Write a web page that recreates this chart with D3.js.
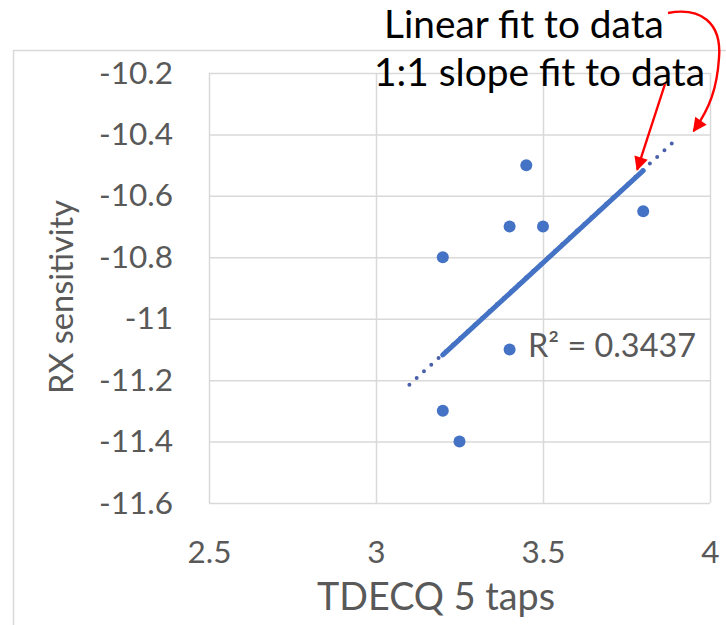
<!DOCTYPE html>
<html>
<head>
<meta charset="utf-8">
<script src="https://cdn.jsdelivr.net/npm/d3@7"></script>
<style>
  html, body { margin: 0; padding: 0; background: #ffffff; }
  svg { display: block; }
</style>
</head>
<body>
<svg id="chart" width="726" height="625"></svg>
<script>
// ---------------- data ----------------
const tdecqValues = [3.45, 3.8, 3.4, 3.5, 3.2, 3.4, 3.2, 3.25];
const rxSensitivity = [-10.5, -10.65, -10.7, -10.7, -10.8, -11.1, -11.3, -11.4];

const xTicks = [2.5, 3, 3.5, 4];
const xTickLabels = ["2.5", "3", "3.5", "4"];
const yTicks = [-10.2, -10.4, -10.6, -10.8, -11, -11.2, -11.4, -11.6];
const yTickLabels = ["-10.2", "-10.4", "-10.6", "-10.8", "-11", "-11.2", "-11.4", "-11.6"];

// linear trendline (dotted, forecast 0.1 both ways) and 1:1 slope fit (solid)
const linearFitSlope = 1.0;
const linearFitIntercept = -14.315;
const linearFitRange = [3.1, 3.9];
const oneToOneSlope = 1.0;
const oneToOneIntercept = -14.318;
const oneToOneRange = [3.2, 3.8];
const rSquaredLabel = "R² = 0.3437";

const xTitle = "TDECQ 5 taps";
const yTitle = "RX sensitivity";
const noteLinear = "Linear fit to data";
const noteOneToOne = "1:1 slope fit to data";

// ---------------- layout ----------------
const svg = d3.select("#chart");
const plot = { left: 209, right: 710, top: 73, bottom: 503 };
const font = "Lato, 'Open Sans', sans-serif";
const grey = "#595959";
const gridColor = "#d9d9d9";
const blue = "#4472C4";

const x = d3.scaleLinear().domain([2.5, 4]).range([plot.left, plot.right]);
const y = d3.scaleLinear().domain([-11.6, -10.2]).range([plot.bottom, plot.top]);

function fitWidth(sel, target) {
  const w = sel.node().getComputedTextLength();
  const fs = parseFloat(sel.attr("font-size"));
  sel.attr("font-size", (fs * target / w).toFixed(2));
}

// outer chart frame
svg.append("rect")
  .attr("x", 13.5).attr("y", 50.5)
  .attr("width", 760).attr("height", 640)
  .attr("fill", "none").attr("stroke", gridColor).attr("stroke-width", 1.5);

// axes with gridlines
const yAxis = d3.axisLeft(y).tickValues(yTicks)
  .tickSize(-(plot.right - plot.left)).tickPadding(36)
  .tickFormat((d, i) => yTickLabels[i]);
const xAxis = d3.axisBottom(x).tickValues(xTicks)
  .tickSize(-(plot.bottom - plot.top)).tickPadding(38)
  .tickFormat((d, i) => xTickLabels[i]);

const gy = svg.append("g").attr("transform", `translate(${plot.left},0)`).call(yAxis);
const gx = svg.append("g").attr("transform", `translate(0,${plot.bottom})`).call(xAxis);
[gx, gy].forEach(g => {
  g.select(".domain").remove();
  g.selectAll(".tick line").attr("stroke", gridColor).attr("stroke-width", 1.5);
  g.selectAll(".tick text")
    .attr("fill", grey).attr("font-family", font).attr("font-size", 31.5);
});

// linear trendline (dotted)
const line = d3.line().x(d => x(d[0])).y(d => y(d[1]));
svg.append("path")
  .datum(linearFitRange.map(v => [v, linearFitSlope * v + linearFitIntercept]))
  .attr("d", line)
  .attr("fill", "none").attr("stroke", "#4a60aa").attr("stroke-width", 4)
  .attr("stroke-linecap", "round").attr("stroke-dasharray", "0 9.9");

// 1:1 slope fit (solid)
svg.append("path")
  .datum(oneToOneRange.map(v => [v, oneToOneSlope * v + oneToOneIntercept]))
  .attr("d", line)
  .attr("fill", "none").attr("stroke", blue).attr("stroke-width", 5)
  .attr("stroke-linecap", "round");

// data points
svg.append("g").selectAll("circle")
  .data(tdecqValues.map((v, i) => [v, rxSensitivity[i]]))
  .join("circle")
  .attr("cx", d => x(d[0])).attr("cy", d => y(d[1]))
  .attr("r", 6).attr("fill", blue);

// R² label
const r2 = svg.append("text")
  .attr("x", 528).attr("y", 357)
  .attr("font-family", font).attr("font-size", 33).attr("fill", grey)
  .text(rSquaredLabel);
fitWidth(r2, 168);

// axis titles
const xt = svg.append("text")
  .attr("x", 436).attr("y", 610).attr("text-anchor", "middle")
  .attr("font-family", font).attr("font-size", 39).attr("fill", grey)
  .text(xTitle);
fitWidth(xt, 238);

const yt = svg.append("text")
  .attr("transform", "translate(73,297) rotate(-90)")
  .attr("text-anchor", "middle")
  .attr("font-family", font).attr("font-size", 34).attr("fill", grey)
  .text(yTitle);
fitWidth(yt, 194);

// annotations
const n1 = svg.append("text")
  .attr("x", 384).attr("y", 38)
  .attr("font-family", font).attr("font-size", 36).attr("fill", "#000")
  .text(noteLinear);
fitWidth(n1, 280);
const n2 = svg.append("text")
  .attr("x", 374).attr("y", 86)
  .attr("font-family", font).attr("font-size", 40).attr("fill", "#000")
  .text(noteOneToOne);
fitWidth(n2, 331);

// red arrows
const defs = svg.append("defs");
defs.append("marker")
  .attr("id", "arrow").attr("viewBox", "0 0 10 10")
  .attr("refX", 9).attr("refY", 5)
  .attr("markerWidth", 16).attr("markerHeight", 14)
  .attr("markerUnits", "userSpaceOnUse")
  .attr("orient", "auto")
  .append("path").attr("d", "M0,0 L10,5 L0,10 Z").attr("fill", "#ff0000");

const red = "#ff0000";
// arrow from "Linear fit to data" to the dotted trendline end
const lfEnd = [x(linearFitRange[1]), y(linearFitSlope * linearFitRange[1] + linearFitIntercept)];
const tip1 = [lfEnd[0] + 17, lfEnd[1] - 8];
const p1 = d3.path();
p1.moveTo(668, 13);
p1.bezierCurveTo(700, 7, 722, 22, 719, 58);
p1.bezierCurveTo(717, 88, 710, 108, tip1[0], tip1[1]);
svg.append("path").attr("d", p1.toString())
  .attr("fill", "none").attr("stroke", red).attr("stroke-width", 2.4)
  .attr("marker-end", "url(#arrow)");

// arrow from "1:1 slope fit to data" to the solid line end
const ooEnd = [x(oneToOneRange[1]), y(oneToOneSlope * oneToOneRange[1] + oneToOneIntercept)];
const tip2 = [ooEnd[0] - 6, ooEnd[1] - 1];
svg.append("path")
  .attr("d", `M665,84 L${tip2[0]},${tip2[1]}`)
  .attr("fill", "none").attr("stroke", red).attr("stroke-width", 2.4)
  .attr("marker-end", "url(#arrow)");
</script>
</body>
</html>
